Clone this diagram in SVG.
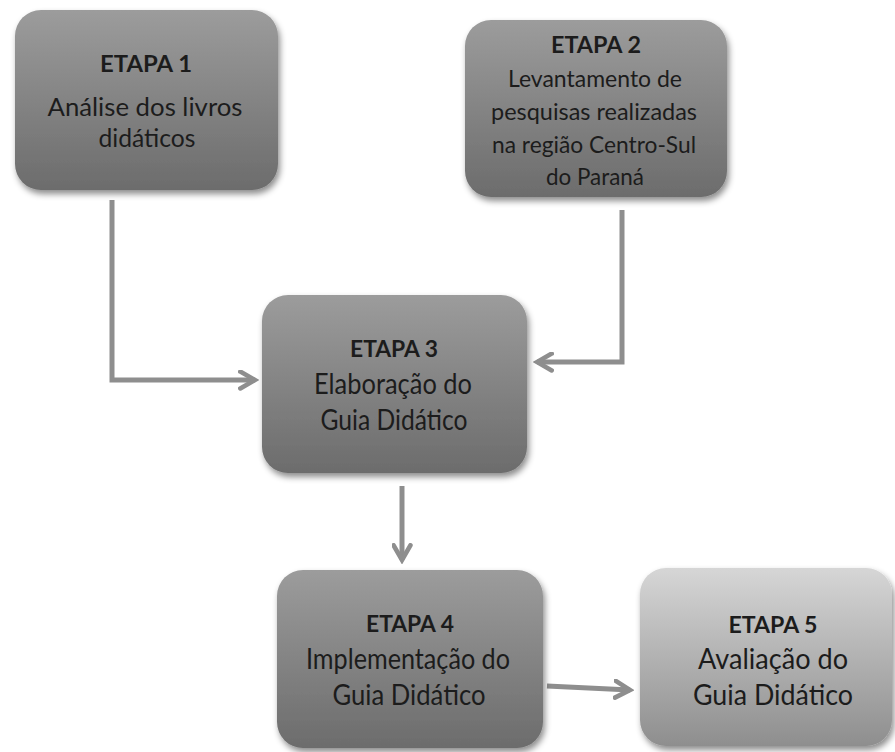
<svg xmlns="http://www.w3.org/2000/svg" width="895" height="752" viewBox="0 0 895 752">
  <style>
    .box { stroke: none; filter: url(#shadow); }
    .t { font-family: Lato, "Open Sans", "Liberation Sans", sans-serif; fill: #1c1c1c; text-anchor: middle; }
    .h { font-weight: bold; font-size: 23px; }
    .b1 { font-size: 25px; }
    .b2 { font-size: 23px; }
    .b3 { font-size: 28px; }
    .conn { fill: none; stroke: #8e8e8e; stroke-width: 5; stroke-linejoin: miter; }
  </style>
  <defs>
    <linearGradient id="gDark" x1="0" y1="0" x2="0" y2="1">
      <stop offset="0" stop-color="#9c9c9c"/>
      <stop offset="1" stop-color="#6c6c6c"/>
    </linearGradient>
    <linearGradient id="gLight" x1="0" y1="0" x2="0" y2="1">
      <stop offset="0" stop-color="#d6d6d6"/>
      <stop offset="1" stop-color="#8e8e8e"/>
    </linearGradient>
    <filter id="shadow" x="-10%" y="-10%" width="125%" height="130%">
      <feDropShadow dx="2" dy="4" stdDeviation="3" flood-color="#000" flood-opacity="0.45"/>
    </filter>
    <marker id="head" viewBox="0 0 10 10" refX="8" refY="5" markerWidth="4.2" markerHeight="4.2" orient="auto" markerUnits="strokeWidth">
      <path d="M1,1 L8,5 L1,9" fill="none" stroke="#8e8e8e" stroke-width="2.2" stroke-linecap="round" stroke-linejoin="miter"/>
    </marker>
  </defs>

  <!-- connectors -->
  <g id="connectors">
    <path class="conn" d="M112,200 V380 H255" marker-end="url(#head)"/>
    <path class="conn" d="M622,210 V362 H537" marker-end="url(#head)"/>
    <path class="conn" d="M402,486 V560" marker-end="url(#head)"/>
    <path class="conn" d="M547,686 L630,690" marker-end="url(#head)"/>
  </g>

  <!-- ETAPA 1 -->
  <g id="etapa1">
    <rect class="box" x="15" y="10" width="263" height="180" rx="26" fill="url(#gDark)"/>
    <text class="t h" x="146" y="72" textLength="92" lengthAdjust="spacingAndGlyphs">ETAPA 1</text>
    <text class="t b1" x="145" y="116" textLength="195" lengthAdjust="spacingAndGlyphs">Análise dos livros</text>
    <text class="t b1" x="147" y="147" textLength="97" lengthAdjust="spacingAndGlyphs">didáticos</text>
  </g>

  <!-- ETAPA 2 -->
  <g id="etapa2">
    <rect class="box" x="465" y="20" width="262" height="177" rx="26" fill="url(#gDark)"/>
    <text class="t h" x="596" y="53" textLength="90" lengthAdjust="spacingAndGlyphs">ETAPA 2</text>
    <text class="t b2" x="595" y="87" textLength="174" lengthAdjust="spacingAndGlyphs">Levantamento de</text>
    <text class="t b2" x="594" y="120" textLength="206" lengthAdjust="spacingAndGlyphs">pesquisas realizadas</text>
    <text class="t b2" x="594" y="153" textLength="204" lengthAdjust="spacingAndGlyphs">na região Centro-Sul</text>
    <text class="t b2" x="595" y="185" textLength="98" lengthAdjust="spacingAndGlyphs">do Paraná</text>
  </g>

  <!-- ETAPA 3 -->
  <g id="etapa3">
    <rect class="box" x="262" y="295" width="265" height="178" rx="26" fill="url(#gDark)"/>
    <text class="t h" x="394" y="357" textLength="88" lengthAdjust="spacingAndGlyphs">ETAPA 3</text>
    <text class="t b3" x="393" y="394" textLength="158" lengthAdjust="spacingAndGlyphs">Elaboração do</text>
    <text class="t b3" x="394" y="430" textLength="147" lengthAdjust="spacingAndGlyphs">Guia Didático</text>
  </g>

  <!-- ETAPA 4 -->
  <g id="etapa4">
    <rect class="box" x="277" y="570" width="266" height="178" rx="26" fill="url(#gDark)"/>
    <text class="t h" x="410" y="632" textLength="88" lengthAdjust="spacingAndGlyphs">ETAPA 4</text>
    <text class="t b3" x="408" y="669" textLength="204" lengthAdjust="spacingAndGlyphs">Implementação do</text>
    <text class="t b3" x="409" y="705" textLength="153" lengthAdjust="spacingAndGlyphs">Guia Didático</text>
  </g>

  <!-- ETAPA 5 -->
  <g id="etapa5">
    <rect class="box" x="640" y="568" width="252" height="178" rx="26" fill="url(#gLight)"/>
    <text class="t h" x="773" y="633" textLength="89" lengthAdjust="spacingAndGlyphs">ETAPA 5</text>
    <text class="t b3" x="773" y="669" textLength="150" lengthAdjust="spacingAndGlyphs">Avaliação do</text>
    <text class="t b3" x="773" y="705" textLength="160" lengthAdjust="spacingAndGlyphs">Guia Didático</text>
  </g>
</svg>
